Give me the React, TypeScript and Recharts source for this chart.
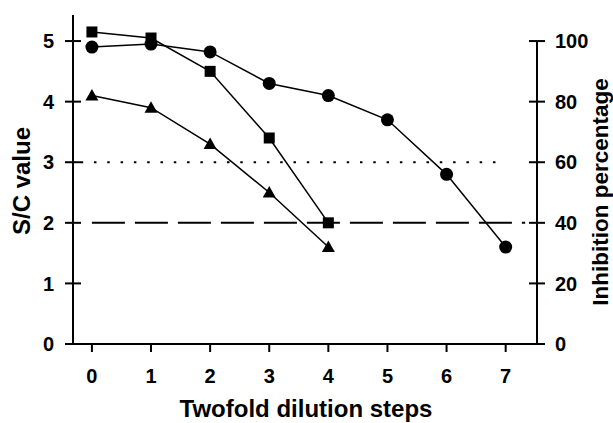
import { Line, LineChart, ReferenceLine, XAxis, YAxis } from "recharts";

const steps = [0, 1, 2, 3, 4, 5, 6, 7];
const circleSC = [4.9, 4.95, 4.82, 4.3, 4.1, 3.7, 2.8, 1.6];
const squareSC = [5.15, 5.05, 4.5, 3.4, 2.0];
const triangleSC = [4.1, 3.9, 3.3, 2.5, 1.6];
const scTicks = [0, 1, 2, 3, 4, 5];
const pctTicks = [0, 20, 40, 60, 80, 100];

const data = steps.map((step, i) => ({
  step,
  circle: circleSC[i],
  square: squareSC[i],
  triangle: triangleSC[i],
}));

const FONT = "'Liberation Sans', Arial, sans-serif";

const XTick = ({ x, y, payload }: any) => (
  <g>
    <line x1={x} x2={x} y1={y} y2={y + 8} stroke="#000" strokeWidth={2} />
    <text x={x} y={y + 39} textAnchor="middle" fontFamily={FONT} fontWeight="bold" fontSize={20} fill="#000">
      {payload.value}
    </text>
  </g>
);

const LeftTick = ({ x, y, payload }: any) => (
  <g>
    <line x1={x - 8} x2={x + 8} y1={y} y2={y} stroke="#000" strokeWidth={2} />
    <text x={x - 19} y={y} dy="0.36em" textAnchor="end" fontFamily={FONT} fontWeight="bold" fontSize={20} fill="#000">
      {payload.value}
    </text>
  </g>
);

const RightTick = ({ x, y, payload }: any) => (
  <g>
    <line x1={x - 8} x2={x + 8} y1={y} y2={y} stroke="#000" strokeWidth={2} />
    <text x={x + 18} y={y} dy="0.36em" textAnchor="start" fontFamily={FONT} fontWeight="bold" fontSize={20} fill="#000">
      {payload.value}
    </text>
  </g>
);

const SquareDot = ({ cx, cy }: any) =>
  cx == null || cy == null ? null : <rect x={cx - 5.5} y={cy - 5.5} width={11} height={11} fill="#000" />;

const TriangleDot = ({ cx, cy }: any) =>
  cx == null || cy == null ? null : (
    <polygon points={`${cx},${cy - 6.5} ${cx + 6.5},${cy + 5} ${cx - 6.5},${cy + 5}`} fill="#000" />
  );

const titleStyle = { fontFamily: FONT, fontWeight: "bold" as const, fill: "#000" };

export default function App() {
  return (
    <div style={{ position: "absolute", left: 0, top: 0, width: 613, height: 423, background: "#fff" }}>
      <LineChart width={613} height={423} data={data} margin={{ top: 15, right: 0, bottom: 0, left: 0 }}>
        <XAxis
          dataKey="step"
          type="number"
          domain={[-0.32, 7.53]}
          ticks={steps}
          allowDataOverflow
          height={79}
          tickSize={0}
          tickMargin={0}
          tickLine={false}
          axisLine={{ stroke: "#000", strokeWidth: 2 }}
          tick={XTick}
          label={() => (
            <text x={306} y={417} textAnchor="middle" fontSize={24} {...titleStyle}>
              Twofold dilution steps
            </text>
          )}
        />
        <YAxis
          yAxisId="left"
          width={73}
          domain={[0, 5.43]}
          ticks={scTicks}
          allowDataOverflow
          tickSize={0}
          tickMargin={0}
          tickLine={false}
          axisLine={{ stroke: "#000", strokeWidth: 2 }}
          tick={LeftTick}
          label={() => (
            <text x={30} y={181} transform="rotate(-90, 30, 181)" textAnchor="middle" fontSize={24} {...titleStyle}>
              S/C value
            </text>
          )}
        />
        <YAxis
          yAxisId="right"
          orientation="right"
          width={76}
          domain={[0, 108.6]}
          ticks={pctTicks}
          allowDataOverflow
          tickSize={0}
          tickMargin={0}
          tickLine={false}
          axisLine={false}
          tick={RightTick}
          label={() => (
            <text x={608} y={192} transform="rotate(-90, 608, 192)" textAnchor="middle" fontSize={22.5} {...titleStyle}>
              Inhibition percentage
            </text>
          )}
        />
        <ReferenceLine
          yAxisId="right"
          segment={[
            { x: 7.53, y: 0 },
            { x: 7.53, y: 100 },
          ]}
          stroke="#000"
          strokeWidth={2}
        />
        <ReferenceLine
          yAxisId="left"
          segment={[
            { x: -0.19, y: 3 },
            { x: 6.9, y: 3 },
          ]}
          stroke="#000"
          strokeWidth={2}
          strokeDasharray="2.5 10.8"
        />
        <ReferenceLine
          yAxisId="left"
          segment={[
            { x: 0, y: 2 },
            { x: 7.33, y: 2 },
          ]}
          stroke="#000"
          strokeWidth={2}
          strokeDasharray="33 10"
        />
        <Line yAxisId="left" dataKey="circle" stroke="#000" strokeWidth={1.5} dot={{ r: 6.5, fill: "#000", stroke: "none" }} isAnimationActive={false} />
        <Line yAxisId="left" dataKey="square" stroke="#000" strokeWidth={1.5} dot={SquareDot} isAnimationActive={false} />
        <Line yAxisId="left" dataKey="triangle" stroke="#000" strokeWidth={1.5} dot={TriangleDot} isAnimationActive={false} />
      </LineChart>
    </div>
  );
}
